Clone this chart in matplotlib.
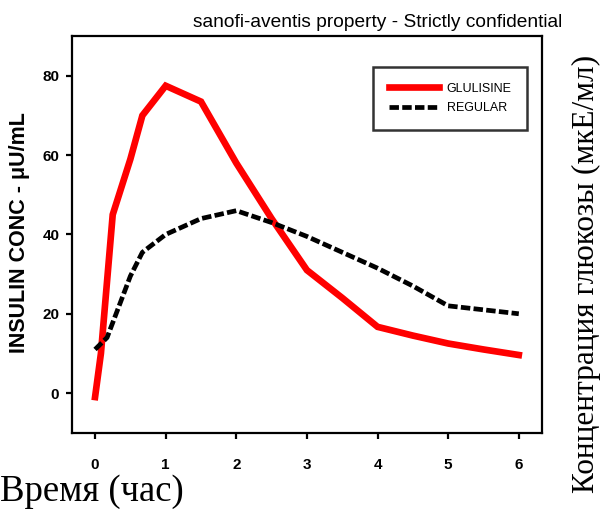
import matplotlib
matplotlib.use("Agg")
import matplotlib.pyplot as plt

# Insulin concentration data
t_glu = [0, 0.083, 0.25, 0.5, 0.67, 1, 1.5, 2, 2.5, 3, 3.5, 4, 4.5, 5, 5.5, 6]
glulisine = [-1, 10, 45, 59, 70, 77.5, 73.5, 58, 44, 31, 24, 16.7, 14.5, 12.5, 11, 9.6]

t_reg = [0, 0.17, 0.33, 0.5, 0.67, 1, 1.5, 2, 2.5, 3, 3.5, 4, 4.5, 5, 5.5, 6]
regular = [11, 14, 21.5, 29.5, 35.5, 40, 44, 46, 43, 39.5, 35.5, 31.5, 27, 22, 21, 20]

x_ticks = [0, 1, 2, 3, 4, 5, 6]
y_ticks = [0, 20, 40, 60, 80]

sans = ['Liberation Sans', 'DejaVu Sans']
serif = ['Liberation Serif', 'DejaVu Serif']

fig = plt.figure(figsize=(6.03, 5.17), dpi=100)
ax = fig.add_axes([0.119, 0.163, 0.780, 0.767])

ax.plot(t_glu, glulisine, color='#ff0000', lw=4.8, label='GLULISINE',
        solid_joinstyle='miter')
ax.plot(t_reg, regular, color='black', lw=3.4, dashes=(2.0, 0.7),
        label='REGULAR')

ax.set_xlim(-0.33, 6.33)
ax.set_ylim(-10, 90)
ax.set_xticks(x_ticks)
ax.set_yticks(y_ticks)

for s in ax.spines.values():
    s.set_linewidth(1.6)
ax.tick_params(direction='out', length=4, width=1.6)
ax.tick_params(axis='x', pad=14)
ax.tick_params(axis='y', pad=5)
for lab in ax.get_xticklabels() + ax.get_yticklabels():
    lab.set_family(sans)
    lab.set_fontweight('bold')
    lab.set_fontsize(11)

leg = ax.legend(loc='upper right', bbox_to_anchor=(0.968, 0.922),
                prop={'family': sans, 'size': 9}, frameon=True,
                fancybox=False, handlelength=4.0, handletextpad=0.6,
                borderpad=1.25, labelspacing=0.6, borderaxespad=0)
leg.get_frame().set_edgecolor('black')
leg.get_frame().set_linewidth(1.8)

fig.text(0.932, 0.957, 'sanofi-aventis property - Strictly confidential',
         ha='right', va='center', family=sans, fontsize=13.8)
fig.text(0.032, 0.55, 'INSULIN CONC - \u03bcU/mL', rotation=90,
         ha='center', va='center', family=sans, fontweight='bold',
         fontsize=15.5)
fig.text(0.972, 0.47, 'Концентрация глюкозы (мкЕ/мл)', rotation=90,
         ha='center', va='center', family=serif, fontsize=22.5)
fig.text(0.0, 0.048, 'Время (час)', ha='left', va='center',
         family=serif, fontsize=26.5)

fig.savefig('out.png', dpi=100)
